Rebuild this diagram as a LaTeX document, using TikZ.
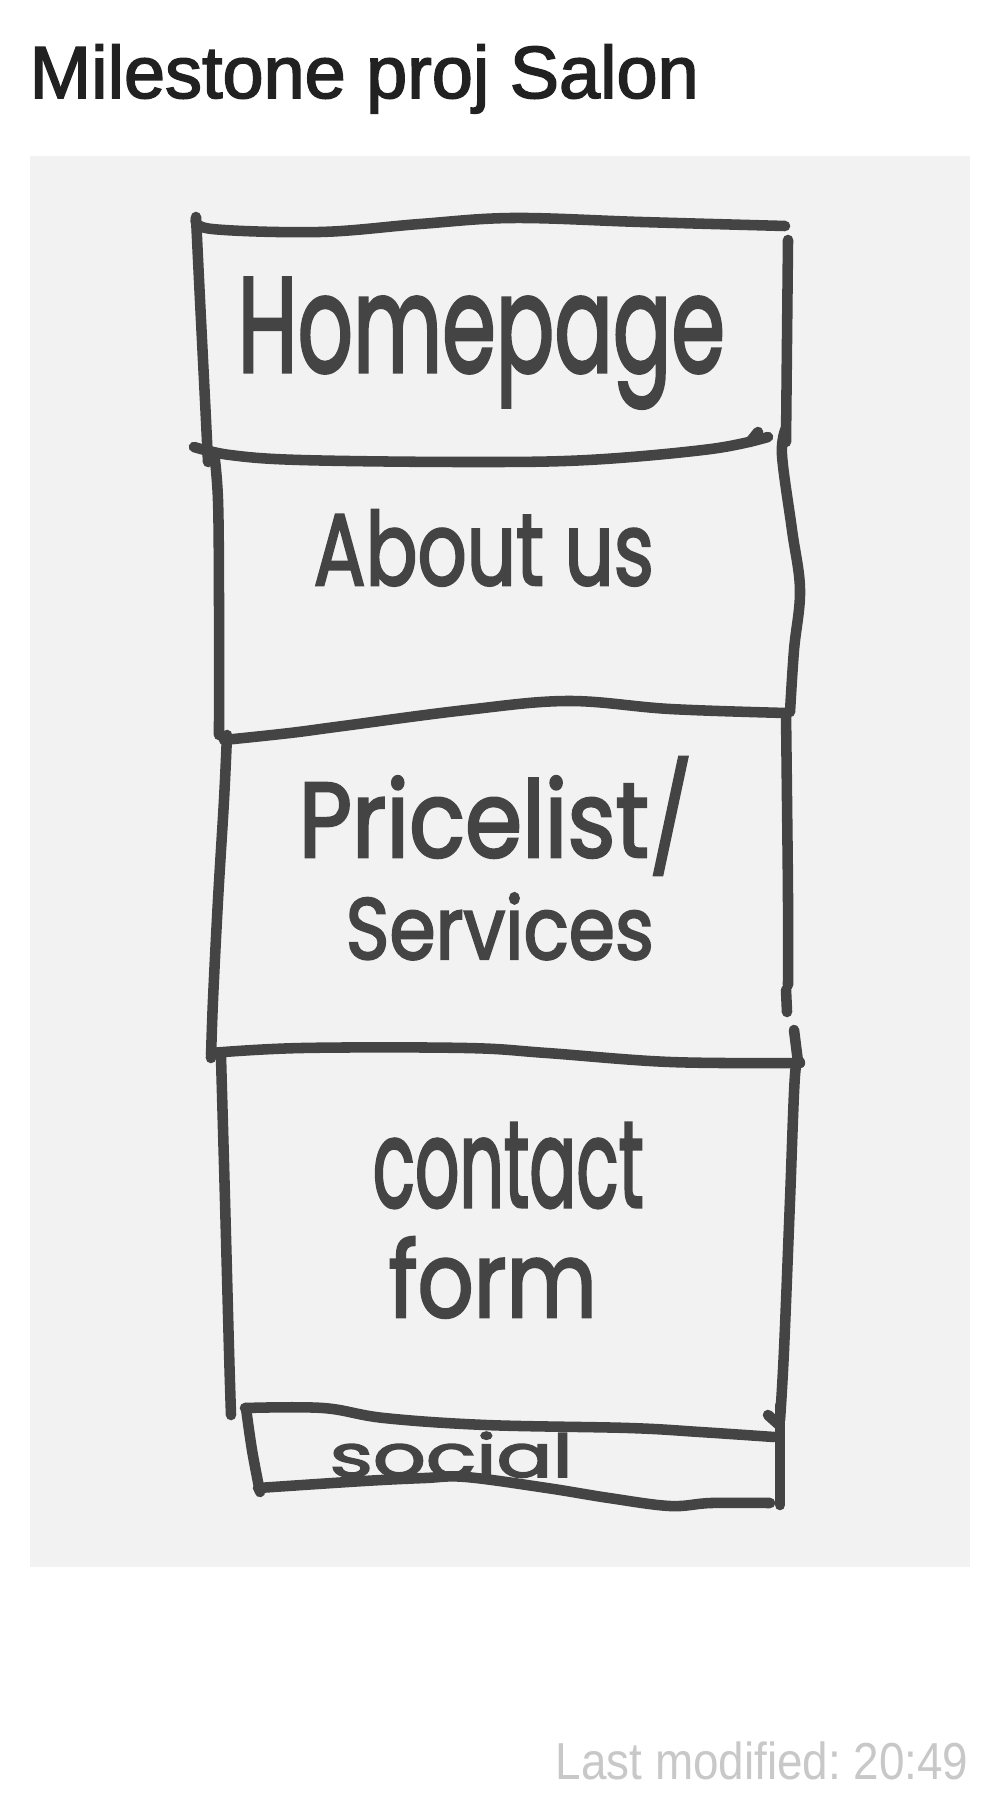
\documentclass[tikz,border=0pt]{standalone}
\usepackage{fontspec}
\setmainfont{Liberation Sans}
\newfontfamily\hand[FakeBold=2.5]{Poppins}
\newfontfamily\titlefont[FakeBold=2.2]{Liberation Sans}
\definecolor{titlec}{HTML}{212121}
\definecolor{footc}{HTML}{C8C8C8}
\definecolor{paper}{HTML}{F2F2F2}
\definecolor{ink}{HTML}{444444}
\frenchspacing
\tikzset{
  pen/.style={draw=ink, line width=3pt, line cap=round, line join=round},
  handtext/.style={anchor=base west, inner sep=0pt, text=ink},
}
\begin{document}
\begin{tikzpicture}[x=0.01cm,y=-0.01cm]
\useasboundingbox (0,0) rectangle (1000,1816);
\fill[white] (0,0) rectangle (1000,1816);
\fill[paper] (30,156) rectangle (970,1567);

% title and footer
\node[anchor=base west, inner sep=0pt, text=titlec, font=\titlefont\fontsize{21pt}{24pt}\selectfont] (title) at (29,98) {Milestone proj Salon};
\node[anchor=base east, inner sep=0pt, text=footc] (foot) at (969,1779) {\scalebox{0.88}[1]{\fontsize{14.8pt}{16pt}\selectfont Last modified: 20:49}};

% Homepage box
\draw[pen] plot[smooth, tension=0.6] coordinates {(196,219) (212,229) (320,232) (420,224) (513,218) (641,222) (785,226)};
\draw[pen] plot[smooth, tension=0.6] coordinates {(196,217) (200,300) (205,400) (208,462)};
\draw[pen] plot[smooth, tension=0.6] coordinates {(788,240) (787,340) (786,442)};
\draw[pen] plot[smooth, tension=0.6] coordinates {(194,447) (230,455) (300,460) (466,462) (588,460) (711,449) (768,437)};
\draw[pen] (750,442) -- (758,432);

% About us box
\draw[pen] plot[smooth, tension=0.6] coordinates {(214,452) (218,500) (219,600) (219,735)};
\draw[pen] plot[smooth, tension=0.6] coordinates {(786,428) (782,455) (792,530) (800,590) (794,650) (790,712)};
\draw[pen] plot[smooth, tension=0.6] coordinates {(224,740) (290,733) (343,726) (466,710) (568,701) (670,709) (786,713)};

% Pricelist box
\draw[pen] plot[smooth, tension=0.6] coordinates {(227,735) (224,800) (218,900) (213,1000) (211,1058)};
\draw[pen] plot[smooth, tension=0.6] coordinates {(786,713) (787,800) (788,900) (788,985)};
\draw[pen] (786,990) -- (787,1012);
\draw[pen] (794,1030) -- (798,1062);
\draw[pen] plot[smooth, tension=0.6] coordinates {(211,1053) (302,1048) (466,1048) (547,1053) (670,1062) (800,1063)};

% Contact box
\draw[pen] plot[smooth, tension=0.6] coordinates {(221,1057) (225,1200) (229,1350) (231,1415)};
\draw[pen] plot[smooth, tension=0.6] coordinates {(800,1063) (795,1075) (790,1200) (784,1350) (780,1420)};
\draw[pen] (768,1415) -- (778,1424);

% Social box
\draw[pen] plot[smooth, tension=0.6] coordinates {(245,1408) (323,1408) (384,1418) (486,1425) (629,1428) (700,1432) (774,1437)};
\draw[pen] plot[smooth, tension=0.6] coordinates {(246,1408) (252,1450) (260,1492)};
\draw[pen] plot[smooth, tension=0.6] coordinates {(780,1405) (780,1460) (780,1505)};
\draw[pen] plot[smooth, tension=0.6] coordinates {(258,1488) (364,1481) (425,1478) (466,1477) (547,1488) (609,1498) (670,1506) (711,1503) (770,1503)};

% handwritten labels
\node[handtext] (home) at (237,372) {\resizebox{4.87cm}{0.94cm}{\hand Homepage}};
\node[handtext] (about) at (313,585) {\resizebox{3.40cm}{0.75cm}{\hand About us}};
\node[handtext] (price) at (298,857) {\resizebox{3.94cm}{1.0cm}{\hand Pricelist/}};
\node[handtext] (serv) at (345,959) {\resizebox{3.08cm}{0.66cm}{\hand Services}};
\node[handtext] (contact) at (372,1207) {\resizebox{2.71cm}{0.84cm}{\hand contact}};
\node[handtext] (form) at (388,1317) {\resizebox{2.08cm}{0.80cm}{\hand form}};
\node[handtext] (social) at (329,1477) {\resizebox{2.43cm}{0.45cm}{\hand social}};
\end{tikzpicture}
\end{document}
